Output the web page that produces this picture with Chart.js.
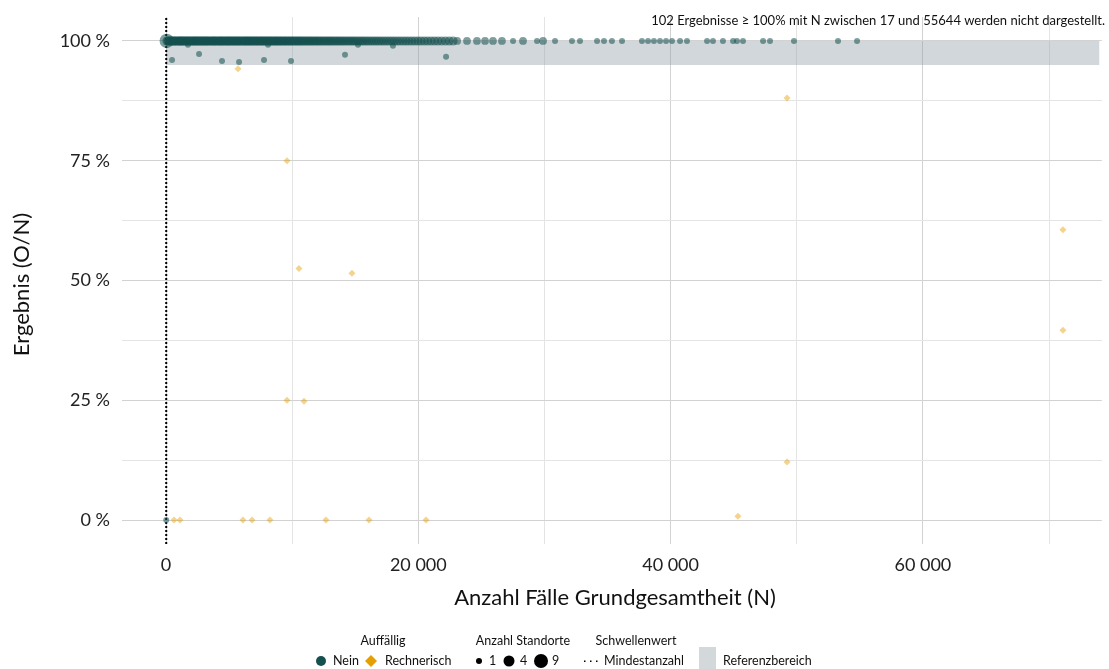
<!DOCTYPE html>
<html>
<head>
<meta charset="utf-8">
<script src="https://cdn.jsdelivr.net/npm/chart.js@4.4.1/dist/chart.umd.min.js"></script>
<style>
  html, body { margin: 0; padding: 0; background: #fff; }
  #wrap { width: 1109px; height: 669px; position: relative; }
</style>
</head>
<body>
<div id="wrap"><canvas id="chart" width="1109" height="669"></canvas></div>
<script>
// Auffällig: Nein - results at 100 % (N)
const neinTopN = [
  60, 150, 320, 480, 650, 800, 990, 1150, 1300, 1480, 1650, 1820, 2000, 2180, 2350, 2520,
  2700, 2880, 3050, 3230, 3400, 3600, 3780, 3950, 4150, 4330, 4500, 4700, 4880, 5060, 5250,
  5430, 5620, 5800, 6000, 6200, 6380, 6570, 6760, 6950, 7150, 7340, 7540, 7730, 7930, 8130,
  8330, 8540, 8740, 8950, 9150, 9370, 9580, 9800, 10020, 10250, 10480, 10700, 10950, 11200,
  11450, 11700, 11960, 12220, 12500, 12780, 13060, 13350, 13650, 13950, 14260, 14580, 14900,
  15240, 15580, 15930, 16300, 16680, 17070, 17480, 17900, 18330, 18780, 19240, 19720, 20220,
  20740, 21280, 21850, 22450, 23080, 23860, 24650, 25290, 25920, 26630, 27510, 28300, 29410,
  29890, 30840, 32180, 32820, 34170, 34720, 35350, 36150, 37730, 38210, 38680, 39160, 39640,
  40110, 40750, 41300, 42890, 43360, 44150, 44950, 45260, 45740, 47330, 47880, 49780, 53270,
  54780
];
const neinTopSites = [
  9, 3, 3, 3, 3, 3, 3, 3, 3, 3, 3, 3, 3, 3, 3, 3,
  3, 3, 3, 3, 3, 3, 3, 3, 3, 3, 3, 3, 3, 3, 3,
  3, 3, 3, 3, 3, 3, 3, 3, 3, 3, 3, 3, 3, 3, 3,
  3, 3, 3, 3, 3, 3, 3, 3, 3, 3, 3, 3, 3, 3,
  3, 3, 3, 3, 3, 3, 3, 3, 3, 3, 3, 3, 3,
  3, 3, 3, 3, 3, 3, 3, 3, 3, 3, 3, 3, 3,
  3, 3, 3, 3, 2, 2, 2, 2, 2, 2, 1, 2, 1,
  2, 1, 1, 1, 1, 1, 1, 1, 1, 1, 1, 1, 1,
  1, 1, 1, 1, 1, 1, 1, 1, 1, 1, 1, 1, 1,
  1
];
// further results at 100 % in the dense part
const neinDenseN = [
  70, 230, 400, 560, 720, 900, 1070, 1220, 1390, 1560, 1730, 1910, 2090, 2260, 2430, 2610,
  2790, 2960, 3140, 3310, 3500, 3690, 3860, 4050, 4240, 4410, 4600, 4790, 4970, 5150, 5340,
  5520, 5710, 5900, 6100, 6290, 6470, 6660, 6850, 7050, 7240, 7440, 7630, 7830, 8030, 8230,
  8430, 8640, 8840, 9050, 9260, 9470, 9690, 9910, 10130, 10360, 10590, 10820, 11070, 11320,
  11570, 11830, 12090, 12360, 12640, 12920, 13200, 13500, 13800, 14100, 14420, 14740, 15070,
  15410, 15750, 16110, 16490, 16870, 17270, 17690, 18110, 18550, 19010, 19480, 19970, 20480,
  21010, 21560, 22150, 22760
];
// Auffällig: Nein - results below 100 %
const neinLowN = [480, 1740, 2620, 4440, 5790, 7770, 8090, 9910, 14190, 15220, 17990, 22200, 20];
const neinLowRate = [0.960, 0.992, 0.973, 0.958, 0.956, 0.960, 0.992, 0.958, 0.971, 0.992, 0.990, 0.967, 0];

// Auffällig: Rechnerisch
const rechN = [5710, 9590, 10540, 14740, 9590, 10940, 49230, 71100, 71100, 49230, 45340,
  634, 1110, 6100, 6820, 8240, 12680, 16090, 20610];
const rechRate = [0.942, 0.75, 0.525, 0.515, 0.25, 0.248, 0.881, 0.606, 0.396, 0.121, 0.008,
  0, 0, 0, 0, 0, 0, 0, 0];

const minCount = 17;                 // Mindestanzahl
const refLow = 0.95, refHigh = 1.0;  // Referenzbereich
const refEnd = 74000;
const xMin = -3488, xMax = 74182;
const yMin = -0.05, yMax = 1.05;
const xGrid = [0, 10000, 20000, 30000, 40000, 50000, 60000, 70000];
const xLabels = [0, 20000, 40000, 60000];
const yGrid = [0, 0.125, 0.25, 0.375, 0.5, 0.625, 0.75, 0.875, 1];
const yLabels = [0, 0.25, 0.5, 0.75, 1];

const green = "#14504f";
const orange = "#e69f00";
const font = "Lato";

function siteRadius(s) {
  return 3 + (Math.sqrt(s) - 1) * 2.1;
}

function fmtThousands(v) {
  return String(v).replace(/\B(?=(\d{3})+(?!\d))/g, " ");
}

const neinPoints = [].concat(
  neinTopN.map((n, i) => ({ x: n, y: 1, s: neinTopSites[i] })),
  neinDenseN.map(n => ({ x: n, y: 1, s: 3 })),
  neinLowN.map((n, i) => ({ x: n, y: neinLowRate[i], s: 1 }))
);

const textPlugin = {
  id: "texts",
  afterDraw(chart) {
    const ctx = chart.ctx;
    const area = chart.chartArea;
    ctx.save();
    ctx.fillStyle = "#111";

    ctx.font = "22px " + font;
    ctx.textAlign = "center";
    ctx.textBaseline = "middle";
    ctx.fillText("Anzahl Fälle Grundgesamtheit (N)", 615, 598);
    ctx.save();
    ctx.translate(22, (area.top + area.bottom) / 2 + 4);
    ctx.rotate(-Math.PI / 2);
    ctx.fillText("Ergebnis (O/N)", 0, 0);
    ctx.restore();

    ctx.font = "13px " + font;
    ctx.textAlign = "right";
    ctx.fillText("102 Ergebnisse ≥ 100% mit N zwischen 17 und 55644 werden nicht dargestellt.", 1105, 21);

    // legend
    ctx.font = "12.5px " + font;
    ctx.textAlign = "center";
    ctx.fillText("Auffällig", 383, 641);
    ctx.fillText("Anzahl Standorte", 523, 641);
    ctx.fillText("Schwellenwert", 636, 641);

    ctx.textAlign = "left";
    const ly = 661;
    ctx.fillStyle = green;
    ctx.beginPath(); ctx.arc(321, ly, 5, 0, Math.PI * 2); ctx.fill();
    ctx.fillStyle = orange;
    ctx.beginPath();
    ctx.moveTo(371, ly - 6); ctx.lineTo(377, ly); ctx.lineTo(371, ly + 6); ctx.lineTo(365, ly);
    ctx.closePath(); ctx.fill();
    ctx.fillStyle = "#111";
    ctx.fillText("Nein", 333, ly);
    ctx.fillText("Rechnerisch", 385, ly);

    ctx.fillStyle = "#000";
    [[479, 3], [509, 5.5], [541, 7]].forEach(d => {
      ctx.beginPath(); ctx.arc(d[0], ly, d[1], 0, Math.PI * 2); ctx.fill();
    });
    ctx.fillStyle = "#111";
    ctx.fillText("1", 489, ly);
    ctx.fillText("4", 520, ly);
    ctx.fillText("9", 552, ly);

    ctx.fillStyle = "#000";
    [584, 590, 596].forEach(x => ctx.fillRect(x, ly - 0.5, 1.5, 1.5));
    ctx.fillStyle = "#111";
    ctx.fillText("Mindestanzahl", 604, ly);

    ctx.fillStyle = "#d3d8db";
    ctx.fillRect(699, 647, 17, 22);
    ctx.fillStyle = "#111";
    ctx.fillText("Referenzbereich", 723, ly);
    ctx.restore();
  }
};

const ctx = document.getElementById("chart").getContext("2d");

new Chart(ctx, {
  type: "scatter",
  data: {
    datasets: [
      {
        label: "Nein",
        data: neinPoints,
        backgroundColor: "rgba(20,80,79,0.55)",
        borderWidth: 0,
        pointRadius: c => siteRadius(c.raw ? c.raw.s : 1),
        order: 1
      },
      {
        label: "Rechnerisch",
        data: rechN.map((n, i) => ({ x: n, y: rechRate[i] })),
        backgroundColor: "rgba(230,159,0,0.45)",
        borderWidth: 0,
        pointStyle: "rectRot",
        pointRadius: 3.5,
        order: 2
      },
      {
        type: "line",
        label: "Mindestanzahl",
        data: [{ x: minCount, y: yMin }, { x: minCount, y: yMax }],
        borderColor: "#000",
        borderWidth: 2,
        borderDash: [2, 2],
        pointRadius: 0,
        fill: false,
        order: 3
      },
      {
        type: "line",
        label: "Referenzbereich",
        data: [{ x: 0, y: refHigh }, { x: refEnd, y: refHigh }],
        borderWidth: 0,
        borderColor: "rgba(0,0,0,0)",
        backgroundColor: "rgba(140,155,165,0.4)",
        pointRadius: 0,
        fill: { value: refLow },
        order: 10
      }
    ]
  },
  options: {
    responsive: false,
    animation: false,
    events: [],
    layout: { padding: { top: 17, right: 1, left: 0, bottom: 0 } },
    plugins: { legend: { display: false }, tooltip: { enabled: false } },
    scales: {
      x: {
        type: "linear",
        min: xMin,
        max: xMax,
        afterBuildTicks: s => { s.ticks = xGrid.map(v => ({ value: v })); },
        afterFit: s => { s.height = 125; s.paddingLeft = 0; s.paddingRight = 0; },
        border: { display: false },
        grid: {
          drawTicks: false,
          color: c => (c.tick && xLabels.includes(c.tick.value)) ? "#d2d2d2" : "#e4e4e4"
        },
        ticks: {
          autoSkip: false,
          maxRotation: 0,
          padding: 10,
          color: "#222",
          font: { family: font, size: 18 },
          callback: v => xLabels.includes(v) ? fmtThousands(v) : ""
        }
      },
      y: {
        min: yMin,
        max: yMax,
        afterBuildTicks: s => { s.ticks = yGrid.map(v => ({ value: v })); },
        afterFit: s => { s.width = 122; s.paddingTop = 0; s.paddingBottom = 0; },
        border: { display: false },
        grid: {
          drawTicks: false,
          color: c => (c.tick && yLabels.includes(c.tick.value)) ? "#d2d2d2" : "#e4e4e4"
        },
        ticks: {
          autoSkip: false,
          padding: 12,
          color: "#222",
          font: { family: font, size: 18 },
          callback: v => yLabels.includes(v) ? Math.round(v * 100) + " %" : ""
        }
      }
    }
  },
  plugins: [textPlugin]
});
</script>
</body>
</html>
